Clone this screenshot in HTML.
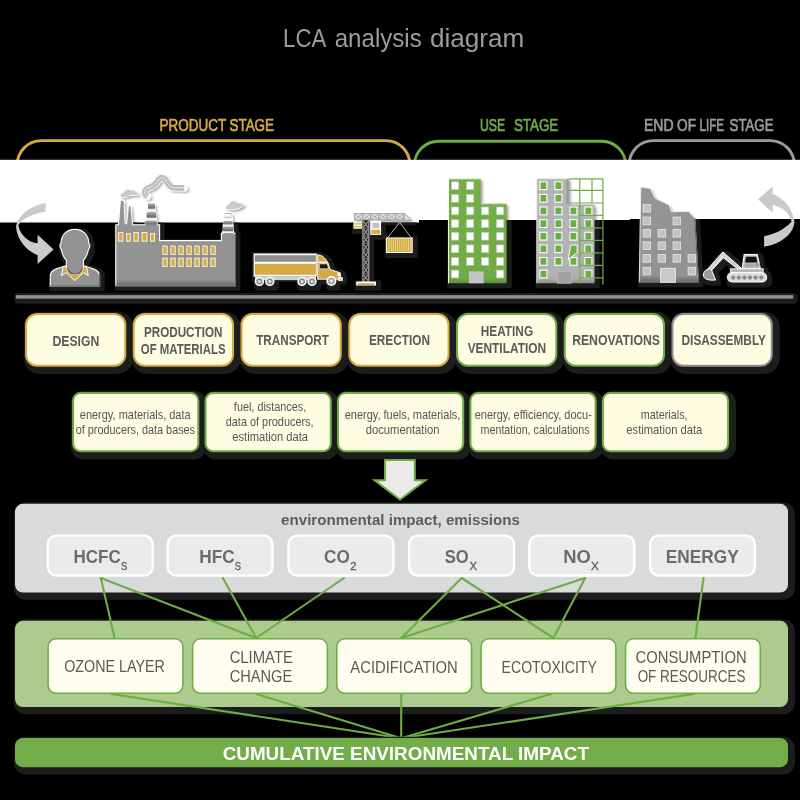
<!DOCTYPE html>
<html><head><meta charset="utf-8"><title>LCA analysis diagram</title>
<style>
html,body{margin:0;padding:0;background:#000;}
body{width:800px;height:800px;overflow:hidden;font-family:"Liberation Sans",sans-serif;}
svg{display:block;will-change:transform;}
svg text{font-family:"Liberation Sans",sans-serif;}
</style></head><body>
<svg width="800" height="800" viewBox="0 0 800 800">
<defs>
<filter id="sh" x="-10%" y="-20%" width="125%" height="150%">
  <feGaussianBlur in="SourceAlpha" stdDeviation="0.9"/>
  <feOffset dx="3.6" dy="5.2" result="o"/>
  <feFlood flood-color="#1d1c1d"/>
  <feComposite in2="o" operator="in" result="s"/>
  <feMerge><feMergeNode in="s"/><feMergeNode in="SourceGraphic"/></feMerge>
</filter>
<linearGradient id="ground" x1="0" y1="0" x2="0" y2="1">
  <stop offset="0" stop-color="#77787a"/><stop offset="0.5" stop-color="#9a9b9d"/><stop offset="1" stop-color="#77787a"/>
</linearGradient>
</defs>
<rect x="0" y="0" width="800" height="800" fill="#000"/>

<text transform="translate(304.70,46.50) scale(0.8883,1)" text-anchor="middle" font-size="25" fill="#9c9c9c" >LCA</text>
<text transform="translate(378.20,46.50) scale(0.9633,1)" text-anchor="middle" font-size="25" fill="#9c9c9c" >analysis</text>
<text transform="translate(477.10,46.50) scale(1.0452,1)" text-anchor="middle" font-size="25" fill="#9c9c9c" >diagram</text>
<text transform="translate(192.85,130.60) scale(0.7753,1)" text-anchor="middle" font-size="17.4" fill="#d6aa43" stroke="#d6aa43" stroke-width="0.7">PRODUCT</text>
<text transform="translate(251.75,130.60) scale(0.7714,1)" text-anchor="middle" font-size="17.4" fill="#d6aa43" stroke="#d6aa43" stroke-width="0.7">STAGE</text>
<text transform="translate(492.50,130.60) scale(0.7043,1)" text-anchor="middle" font-size="17.4" fill="#6dad46" stroke="#6dad46" stroke-width="0.7">USE</text>
<text transform="translate(536.05,130.60) scale(0.7679,1)" text-anchor="middle" font-size="17.4" fill="#6dad46" stroke="#6dad46" stroke-width="0.7">STAGE</text>
<text transform="translate(658.70,130.60) scale(0.8057,1)" text-anchor="middle" font-size="17.4" fill="#9b9b9b" stroke="#9b9b9b" stroke-width="0.7">END</text>
<text transform="translate(686.60,130.60) scale(0.7863,1)" text-anchor="middle" font-size="17.4" fill="#9b9b9b" stroke="#9b9b9b" stroke-width="0.7">OF</text>
<text transform="translate(711.85,130.60) scale(0.6668,1)" text-anchor="middle" font-size="17.4" fill="#9b9b9b" stroke="#9b9b9b" stroke-width="0.7">LIFE</text>
<text transform="translate(751.55,130.60) scale(0.7610,1)" text-anchor="middle" font-size="17.4" fill="#9b9b9b" stroke="#9b9b9b" stroke-width="0.7">STAGE</text>
<path d="M17.3,175 V164.6 A24,24 0 0 1 41.3,140.6 H385.9 A24,24 0 0 1 409.9,164.6 V175" fill="none" stroke="#d6aa43" stroke-width="2.9"/>
<path d="M414.4,175 V165.2 A24,24 0 0 1 438.4,141.2 H601.7 A24,24 0 0 1 625.7,165.2 V175" fill="none" stroke="#6dad46" stroke-width="2.9"/>
<path d="M629.2,175 V164.6 A24,24 0 0 1 653.2,140.6 H770.3 A24,24 0 0 1 794.3,164.6 V175" fill="none" stroke="#9b9b9b" stroke-width="2.9"/>
<rect x="0" y="159.8" width="419" height="62.7" fill="#fff"/>
<rect x="419" y="159.8" width="211" height="60.2" fill="#fff"/>
<rect x="630" y="159.8" width="170" height="59.2" fill="#fff"/>
<defs>
<filter id="ish" filterUnits="userSpaceOnUse" x="0" y="150" width="800" height="160">
  <feMorphology in="SourceAlpha" operator="dilate" radius="3.4"/>
  <feGaussianBlur stdDeviation="0.5"/>
  <feOffset dx="1.7" dy="2.1" result="o"/>
  <feFlood flood-color="#1e1d1e"/>
  <feComposite in2="o" operator="in"/>
</filter>
<filter id="ishw" filterUnits="userSpaceOnUse" x="0" y="150" width="800" height="160">
  <feGaussianBlur in="SourceAlpha" stdDeviation="1.2"/>
  <feOffset dx="2.2" dy="2.4" result="o"/>
  <feFlood flood-color="#000" flood-opacity="0.33"/>
  <feComposite in2="o" operator="in"/>
</filter>
<clipPath id="cband"><rect x="0" y="159.8" width="419" height="62.7"/><rect x="419" y="159.8" width="211" height="60.2"/><rect x="630" y="159.8" width="170" height="59.2"/></clipPath>
<clipPath id="cblack"><rect x="0" y="222.5" width="419" height="80"/><rect x="419" y="220" width="211" height="80"/><rect x="630" y="219" width="170" height="80"/></clipPath>
<linearGradient id="bodyg" x1="0" y1="0" x2="0" y2="1">
  <stop offset="0" stop-color="#959595"/><stop offset="0.93" stop-color="#929292"/><stop offset="1" stop-color="#666"/>
</linearGradient>
<linearGradient id="segg" x1="0" y1="0" x2="0" y2="1">
  <stop offset="0" stop-color="#a6a6a6"/><stop offset="1" stop-color="#666"/>
</linearGradient>
<linearGradient id="greeng" x1="0" y1="0" x2="0" y2="1">
  <stop offset="0" stop-color="#73ae4a"/><stop offset="0.95" stop-color="#70ab47"/><stop offset="1" stop-color="#5a8f38"/>
</linearGradient>
<linearGradient id="lgrayg" x1="0" y1="0" x2="0" y2="1">
  <stop offset="0" stop-color="#b4b4b4"/><stop offset="0.95" stop-color="#b1b1b1"/><stop offset="1" stop-color="#8f8f8f"/>
</linearGradient>
</defs>
<g clip-path="url(#cblack)"><g filter="url(#ish)"><g id="sil"><path d="M74.9,229.4 C83.5,229.4 88.6,235.5 88.9,243.6 C90.2,243.8 90.2,247.5 88.4,249.6 C87.6,254.5 85.4,258.2 83.4,260.4 L83.4,266.5 C83.4,271.5 79.5,274.4 74.9,274.4 C70.3,274.4 66.4,271.5 66.4,266.5 L66.4,260.4 C64.4,258.2 62.2,254.5 61.4,249.6 C59.6,247.5 59.6,243.8 60.9,243.6 C61.2,235.5 66.3,229.4 74.9,229.4 Z"/><path d="M50.3,286.2 L50.3,276 C50.3,271 55,268.6 66.4,265.7 L83.4,265.7 C94.8,268.6 99.6,271 99.6,276 L99.6,286.2 Z"/><path d="M115.8,285.8 L115.8,224.8 L118.4,224.8 L120.4,200.2 L124,200.2 L125.2,223.6 L126.6,223.6 L128.4,205.6 L131,205.6 L132.6,224.8 L145.2,224.8 L145.2,221 L146.6,221 L146.6,212.6 L148,212.6 L148,203.6 L155,203.6 L155,212.6 L156.2,212.6 L156.2,221 L157.2,221 L157.2,224.8 L159.6,224.8 L159.6,240.6 L221.4,240.6 L221.4,233.2 L223.2,233.2 L224.6,212.4 L232,212.4 L233.6,233.2 L235.4,233.2 L235.4,285.8 Z"/><path d="M120.4,197.2 C119.6,194.5 121.5,192.6 123.6,192.4 C124.6,189.6 128.6,188 131,190.2 C133.5,189.4 136,190.6 136.4,192 L138.4,192 L138.4,195.2 L130,195.6 C128,197.6 123,198 120.4,197.2 Z"/><path d="M225.6,209 C224.8,206.6 226.4,204.6 229,204.4 C229.6,201.2 233.6,199.6 236.2,201.6 C238.6,203.2 241.6,203.4 244.2,204 C243.4,206.6 240,209 236,209.4 C232,210 228,209.8 225.6,209 Z"/><path d="M147.5,196.4 C143.4,194 144,189.4 149,187.8 C154,186.2 155.6,184.4 157.6,181 C159.6,177.4 163.2,176.6 165.6,180 C167.6,183 169,186.8 173,187.6 L184.2,188" fill="none" stroke="#000" stroke-width="6" stroke-linecap="round" stroke-linejoin="round"/><rect x="253" y="252.9" width="64.2" height="24.2"/><path d="M317,254.2 C322,254.4 325.6,257.6 327.8,262 L330.4,269.4 L340.6,272.4 L342,279.4 L317,279.4 Z"/><circle cx="259.4" cy="281.4" r="4.4"/><circle cx="269.8" cy="281.4" r="4.4"/><circle cx="302" cy="281.4" r="4.4"/><circle cx="312" cy="281.4" r="4.4"/><circle cx="331.4" cy="281.4" r="4.4"/><rect x="354" y="213.1" width="50" height="7.2"/><path d="M404,213.1 L411.6,220.3 L404,220.3 Z"/><rect x="362.4" y="220" width="6.9" height="61.6"/><rect x="353.4" y="221.8" width="8.6" height="7"/><rect x="370.2" y="220.6" width="10.9" height="14.3"/><rect x="386" y="237.6" width="26.6" height="15.3"/><rect x="356.2" y="281.5" width="19.8" height="4"/><path d="M448.3,283.3 L448.3,178.6 L480.8,178.6 L480.8,203.6 L506.6,203.6 L506.6,283.3 Z"/><path d="M536.7,283.3 L536.7,178.6 L568.8,178.6 L568.8,204.4 L594.5,204.4 L594.5,283.3 Z"/><path d="M639.3,282.3 L640.8,187 L650.4,188.5 L655,198.2 L669.2,205 L671.4,211.8 L688.8,211.5 L694.8,218.5 L698.5,282.3 Z"/><rect x="727.2" y="272.4" width="39.8" height="10" rx="4.6"/><rect x="730.4" y="268.6" width="33" height="4"/><path d="M742,268.8 L744,254.3 L757.4,254.3 L760.6,268.8 Z"/><path d="M742,268 L722.8,251.6 L706.6,270 L710,272 L723.4,257.6 L738,268.8 Z"/><path d="M703,275 C703,270.6 706.5,268.4 711.4,268.6 L716,280.4 C709,281 703,279.6 703,275 Z"/></g></g></g>
<g clip-path="url(#cband)"><g filter="url(#ishw)"><use href="#sil"/></g></g>
<path d="M764.1,236.2 C772,235 784,230.5 791.6,221.6 L791.2,220.3 C789.5,214 783,207 772.7,205.1 L772.7,212.8 L758,199.2 L772.7,186.4 L772.7,194.1 C783,198 792,207 794.4,221.2 C794.6,232 783,243.5 764.1,246.7 Z" fill="#c9cacb"/><path d="M45.6,203 C33,205.5 19,213 16.1,226 C16.2,238 26,251 37.6,255 L37.6,263.9 L53.6,249.4 L37.6,234.8 L37.6,243.3 C29,242.5 20.5,235 18.6,226.4 L18.4,225 C22,218.5 33,213.5 45.6,211.7 Z" fill="#c9cacb"/>
<path d="M50.3,286.2 L50.3,276 C50.3,271 55,268.6 66.4,265.7 L83.4,265.7 C94.8,268.6 99.6,271 99.6,276 L99.6,286.2 Z" fill="url(#bodyg)" stroke="#fff" stroke-width="1.1"/>
<path d="M99.6,274 L99.6,286.2 L50.3,286.2" fill="none" stroke="#5e5e5e" stroke-width="1.2"/>
<path d="M63.3,266.2 L61.3,275.8 L66,272.6 L74.8,280.6 L83.6,272.6 L88.3,275.8 L86.4,266.2 L74.8,268 Z" fill="#d6aa43" stroke="#fff" stroke-width="1"/>
<path d="M74.9,229.4 C83.5,229.4 88.6,235.5 88.9,243.6 C90.2,243.8 90.2,247.5 88.4,249.6 C87.6,254.5 85.4,258.2 83.4,260.4 L83.4,266.5 C83.4,271.5 79.5,274.4 74.9,274.4 C70.3,274.4 66.4,271.5 66.4,266.5 L66.4,260.4 C64.4,258.2 62.2,254.5 61.4,249.6 C59.6,247.5 59.6,243.8 60.9,243.6 C61.2,235.5 66.3,229.4 74.9,229.4 Z" fill="#939393" stroke="#fff" stroke-width="1.1"/>
<path d="M66.9,262 L82.9,262 L82.9,266.5 C82.9,271 79.3,273.9 74.9,273.9 C70.5,273.9 66.9,271 66.9,266.5 Z" fill="#939393"/>
<path d="M67.5,268.5 C68.5,272.2 71.5,274 74.9,274 C78.3,274 81.3,272.2 82.3,268.5" fill="none" stroke="#555" stroke-width="1.2"/>
<path d="M115.8,285.8 L115.8,224.8 L118.4,224.8 L120.4,200.2 L124,200.2 L125.2,223.6 L126.6,223.6 L128.4,205.6 L131,205.6 L132.6,224.8 L145.2,224.8 L145.2,221 L146.6,221 L146.6,212.6 L148,212.6 L148,203.6 L155,203.6 L155,212.6 L156.2,212.6 L156.2,221 L157.2,221 L157.2,224.8 L159.6,224.8 L159.6,240.6 L221.4,240.6 L221.4,233.2 L223.2,233.2 L224.6,212.4 L232,212.4 L233.6,233.2 L235.4,233.2 L235.4,285.8 Z" fill="url(#bodyg)" stroke="#fff" stroke-width="1.1" stroke-linejoin="round"/>
<path d="M235.4,233.4 L235.4,285.8 L115.8,285.8" fill="none" stroke="#5e5e5e" stroke-width="1.3"/>
<rect x="147.4" y="208.6" width="8.2" height="3.6" fill="#f4f4f4"/>
<rect x="146.0" y="217.6" width="10.8" height="3.2" fill="#f4f4f4"/>
<rect x="148" y="203.6" width="7" height="5" fill="url(#segg)"/><rect x="146.6" y="212.4" width="9.6" height="5.2" fill="url(#segg)"/><rect x="145.2" y="220.9" width="12" height="3.6" fill="url(#segg)"/>
<path d="M224.8,212.4 L231.2,212.4 L232.4,221.2 L223.6,221.2 Z" fill="#fafafa"/>
<rect x="225.2" y="213" width="5.6" height="0.9" fill="#a8a8a8"/><rect x="224.9" y="216.8" width="6.2" height="0.9" fill="#a8a8a8"/>
<rect x="223.4" y="221.2" width="9.2" height="3.3" fill="url(#segg)"/>
<rect x="222.6" y="224.5" width="10.6" height="2.3" fill="#f6f6f6"/>
<rect x="222.3" y="226.8" width="11.1" height="4.5" fill="url(#segg)"/>
<rect x="221.8" y="231.3" width="12.4" height="1.8" fill="#f6f6f6"/>
<rect x="118.6" y="232.6" width="4.3" height="8.6" fill="#d6aa43" stroke="#fbf3d6" stroke-width="1"/>
<rect x="126.6" y="233.6" width="3.8" height="7.6" fill="#d6aa43" stroke="#fbf3d6" stroke-width="1"/>
<rect x="133.9" y="232.6" width="4.4" height="8.6" fill="#d6aa43" stroke="#fbf3d6" stroke-width="1"/>
<rect x="142.1" y="232.6" width="4.9" height="8.6" fill="#d6aa43" stroke="#fbf3d6" stroke-width="1"/>
<rect x="150.5" y="233.6" width="4.0" height="7.6" fill="#d6aa43" stroke="#fbf3d6" stroke-width="1"/>
<rect x="162.9" y="246" width="4.3" height="8.3" fill="#d6aa43" stroke="#fbf3d6" stroke-width="1"/>
<rect x="170.9" y="246" width="4.3" height="8.3" fill="#d6aa43" stroke="#fbf3d6" stroke-width="1"/>
<rect x="178.9" y="246" width="4.3" height="8.3" fill="#d6aa43" stroke="#fbf3d6" stroke-width="1"/>
<rect x="186.9" y="246" width="4.3" height="8.3" fill="#d6aa43" stroke="#fbf3d6" stroke-width="1"/>
<rect x="194.9" y="246" width="4.3" height="8.3" fill="#d6aa43" stroke="#fbf3d6" stroke-width="1"/>
<rect x="202.9" y="246" width="4.3" height="8.3" fill="#d6aa43" stroke="#fbf3d6" stroke-width="1"/>
<rect x="210.9" y="246" width="4.3" height="8.3" fill="#d6aa43" stroke="#fbf3d6" stroke-width="1"/>
<rect x="162.9" y="258.2" width="4.3" height="8.2" fill="#d6aa43" stroke="#fbf3d6" stroke-width="1"/>
<rect x="170.9" y="258.2" width="4.3" height="8.2" fill="#d6aa43" stroke="#fbf3d6" stroke-width="1"/>
<rect x="178.9" y="258.2" width="4.3" height="8.2" fill="#d6aa43" stroke="#fbf3d6" stroke-width="1"/>
<rect x="186.9" y="258.2" width="4.3" height="8.2" fill="#d6aa43" stroke="#fbf3d6" stroke-width="1"/>
<rect x="194.9" y="258.2" width="4.3" height="8.2" fill="#d6aa43" stroke="#fbf3d6" stroke-width="1"/>
<rect x="202.9" y="258.2" width="4.3" height="8.2" fill="#d6aa43" stroke="#fbf3d6" stroke-width="1"/>
<rect x="210.9" y="258.2" width="4.3" height="8.2" fill="#d6aa43" stroke="#fbf3d6" stroke-width="1"/>
<path d="M120.4,197.2 C119.6,194.5 121.5,192.6 123.6,192.4 C124.6,189.6 128.6,188 131,190.2 C133.5,189.4 136,190.6 136.4,192 L138.4,192 L138.4,195.2 L130,195.6 C128,197.6 123,198 120.4,197.2 Z" fill="#cacaca" stroke="#fafafa" stroke-width="1"/>
<path d="M225.6,209 C224.8,206.6 226.4,204.6 229,204.4 C229.6,201.2 233.6,199.6 236.2,201.6 C238.6,203.2 241.6,203.4 244.2,204 C243.4,206.6 240,209 236,209.4 C232,210 228,209.8 225.6,209 Z" fill="#cacaca" stroke="#fafafa" stroke-width="1"/>
<path d="M147.5,196.4 C143.4,194 144,189.4 149,187.8 C154,186.2 155.6,184.4 157.6,181 C159.6,177.4 163.2,176.6 165.6,180 C167.6,183 169,186.8 173,187.6 L184.2,188" fill="none" stroke="#fbfbfb" stroke-width="7.6" stroke-linecap="round" stroke-linejoin="round"/>
<path d="M147.5,196.4 C143.4,194 144,189.4 149,187.8 C154,186.2 155.6,184.4 157.6,181 C159.6,177.4 163.2,176.6 165.6,180 C167.6,183 169,186.8 173,187.6 L184.2,188" fill="none" stroke="#bdbdbd" stroke-width="5.8" stroke-linecap="butt" stroke-linejoin="round"/>
<path d="M147.5,196.4 C143.4,194 144,189.4 149,187.8 C154,186.2 155.6,184.4 157.6,181 C159.6,177.4 163.2,176.6 165.6,180 C167.6,183 169,186.8 173,187.6 L184.2,188" fill="none" stroke="#f2f2f2" stroke-width="0.9" stroke-linecap="butt" stroke-linejoin="round"/>
<rect x="253.6" y="253.5" width="63.2" height="23.2" fill="#fff"/>
<rect x="254.8" y="255.2" width="61" height="6.6" fill="#8d8d8d"/>
<rect x="254.8" y="263.8" width="61" height="11" fill="#d6aa43"/>
<rect x="255" y="276.7" width="61" height="3.4" fill="#cfcfcf"/>
<path d="M317.6,254.8 C322,255 325.2,257.8 327.4,262 L317.6,262 Z" fill="#d6aa43" stroke="#fff" stroke-width="0.9"/>
<path d="M317.6,262.6 L328,262.6 L330.2,269.6 L339.8,272.6 L341,279.2 L317.6,279.2 Z" fill="#d6aa43" stroke="#fff" stroke-width="0.9" stroke-linejoin="round"/>
<path d="M319.4,263.9 L327.2,263.9 L328.6,268.8 L319.4,268.8 Z" fill="#1a1a1a" stroke="#fff" stroke-width="0.6"/>
<rect x="337.6" y="272.6" width="3" height="3.4" fill="#fff"/><rect x="338.6" y="277.6" width="4" height="3.2" fill="#ddd" stroke="#fff" stroke-width="0.6"/>
<circle cx="259.4" cy="281.4" r="3.9" fill="#8a8a8a" stroke="#fff" stroke-width="1.6"/><circle cx="259.4" cy="281.4" r="1.6" fill="#d8d8d8"/>
<circle cx="269.8" cy="281.4" r="3.9" fill="#8a8a8a" stroke="#fff" stroke-width="1.6"/><circle cx="269.8" cy="281.4" r="1.6" fill="#d8d8d8"/>
<circle cx="302" cy="281.4" r="3.9" fill="#8a8a8a" stroke="#fff" stroke-width="1.6"/><circle cx="302" cy="281.4" r="1.6" fill="#d8d8d8"/>
<circle cx="312" cy="281.4" r="3.9" fill="#8a8a8a" stroke="#fff" stroke-width="1.6"/><circle cx="312" cy="281.4" r="1.6" fill="#d8d8d8"/>
<circle cx="331.4" cy="281" r="4.2" fill="#9a9a9a" stroke="#fff" stroke-width="1.7"/><circle cx="331.4" cy="281" r="1.7" fill="#e8e8e8"/>
<rect x="354" y="213.2" width="50" height="7" fill="#dcdcdc"/>
<path d="M404,213.2 L411.4,220.2 L404,220.2 Z" fill="#dedede" stroke="#a4a4a4" stroke-width="0.9"/>
<rect x="354.40" y="213.6" width="7.9" height="6.2" fill="#dedede" stroke="#a2a2a2" stroke-width="0.9"/><path d="M354.40,213.6 l7.9,6.2 M354.40,219.8 l7.9,-6.2" stroke="#a8a8a8" stroke-width="0.9"/>
<rect x="362.67" y="213.6" width="7.9" height="6.2" fill="#dedede" stroke="#a2a2a2" stroke-width="0.9"/><path d="M362.67,213.6 l7.9,6.2 M362.67,219.8 l7.9,-6.2" stroke="#a8a8a8" stroke-width="0.9"/>
<rect x="370.94" y="213.6" width="7.9" height="6.2" fill="#dedede" stroke="#a2a2a2" stroke-width="0.9"/><path d="M370.94,213.6 l7.9,6.2 M370.94,219.8 l7.9,-6.2" stroke="#a8a8a8" stroke-width="0.9"/>
<rect x="379.21" y="213.6" width="7.9" height="6.2" fill="#dedede" stroke="#a2a2a2" stroke-width="0.9"/><path d="M379.21,213.6 l7.9,6.2 M379.21,219.8 l7.9,-6.2" stroke="#a8a8a8" stroke-width="0.9"/>
<rect x="387.48" y="213.6" width="7.9" height="6.2" fill="#dedede" stroke="#a2a2a2" stroke-width="0.9"/><path d="M387.48,213.6 l7.9,6.2 M387.48,219.8 l7.9,-6.2" stroke="#a8a8a8" stroke-width="0.9"/>
<rect x="395.75" y="213.6" width="7.9" height="6.2" fill="#dedede" stroke="#a2a2a2" stroke-width="0.9"/><path d="M395.75,213.6 l7.9,6.2 M395.75,219.8 l7.9,-6.2" stroke="#a8a8a8" stroke-width="0.9"/>
<rect x="362.4" y="220.3" width="6.9" height="61.3" fill="#1c1c1c"/>
<rect x="362.3" y="220.3" width="1.3" height="61.3" fill="#9c9c9c"/><rect x="368.1" y="220.3" width="1.3" height="61.3" fill="#9c9c9c"/>
<path d="M363.4,221.2 l4.9,6.4 M363.4,227.6 l4.9,-6.4" stroke="#9a9a9a" stroke-width="1.1"/><path d="M362.6,228.2 h6.6" stroke="#8a8a8a" stroke-width="0.9"/>
<path d="M363.4,228.8 l4.9,6.4 M363.4,235.2 l4.9,-6.4" stroke="#9a9a9a" stroke-width="1.1"/><path d="M362.6,235.8 h6.6" stroke="#8a8a8a" stroke-width="0.9"/>
<path d="M363.4,236.4 l4.9,6.4 M363.4,242.8 l4.9,-6.4" stroke="#9a9a9a" stroke-width="1.1"/><path d="M362.6,243.4 h6.6" stroke="#8a8a8a" stroke-width="0.9"/>
<path d="M363.4,244.0 l4.9,6.4 M363.4,250.4 l4.9,-6.4" stroke="#9a9a9a" stroke-width="1.1"/><path d="M362.6,251.0 h6.6" stroke="#8a8a8a" stroke-width="0.9"/>
<path d="M363.4,251.6 l4.9,6.4 M363.4,258.0 l4.9,-6.4" stroke="#9a9a9a" stroke-width="1.1"/><path d="M362.6,258.6 h6.6" stroke="#8a8a8a" stroke-width="0.9"/>
<path d="M363.4,259.2 l4.9,6.4 M363.4,265.6 l4.9,-6.4" stroke="#9a9a9a" stroke-width="1.1"/><path d="M362.6,266.2 h6.6" stroke="#8a8a8a" stroke-width="0.9"/>
<path d="M363.4,266.8 l4.9,6.4 M363.4,273.2 l4.9,-6.4" stroke="#9a9a9a" stroke-width="1.1"/><path d="M362.6,273.8 h6.6" stroke="#8a8a8a" stroke-width="0.9"/>
<path d="M363.4,274.4 l4.9,6.4 M363.4,280.8 l4.9,-6.4" stroke="#9a9a9a" stroke-width="1.1"/><path d="M362.6,281.4 h6.6" stroke="#8a8a8a" stroke-width="0.9"/>
<rect x="353.4" y="221.8" width="8.6" height="7" fill="#f5f0dc"/>
<rect x="353.4" y="223.2" width="8.6" height="1.3" fill="#d6aa43" opacity="0.8"/><rect x="353.4" y="226.0" width="8.6" height="1.3" fill="#d6aa43" opacity="0.8"/>
<rect x="370.2" y="220.6" width="10.9" height="14.3" fill="#fff"/>
<rect x="372.2" y="222.8" width="7" height="5.6" fill="#c2c3c4"/>
<rect x="371.4" y="229.8" width="8.6" height="4" fill="#d6aa43"/>
<rect x="397" y="221" width="5.4" height="1.4" fill="#d6aa43"/>
<path d="M399.7,222.4 L387.4,238 M399.7,222.4 L411.4,238" stroke="#bdbdbd" stroke-width="0.9" fill="none"/>
<rect x="386.4" y="238" width="25.8" height="14.5" fill="#d6aa43" stroke="#fff" stroke-width="1"/>
<rect x="388.60" y="239.2" width="0.8" height="12.2" fill="#f1dfa6" opacity="0.85"/>
<rect x="390.75" y="239.2" width="0.8" height="12.2" fill="#f1dfa6" opacity="0.85"/>
<rect x="392.90" y="239.2" width="0.8" height="12.2" fill="#f1dfa6" opacity="0.85"/>
<rect x="395.05" y="239.2" width="0.8" height="12.2" fill="#f1dfa6" opacity="0.85"/>
<rect x="397.20" y="239.2" width="0.8" height="12.2" fill="#f1dfa6" opacity="0.85"/>
<rect x="399.35" y="239.2" width="0.8" height="12.2" fill="#f1dfa6" opacity="0.85"/>
<rect x="401.50" y="239.2" width="0.8" height="12.2" fill="#f1dfa6" opacity="0.85"/>
<rect x="403.65" y="239.2" width="0.8" height="12.2" fill="#f1dfa6" opacity="0.85"/>
<rect x="405.80" y="239.2" width="0.8" height="12.2" fill="#f1dfa6" opacity="0.85"/>
<rect x="407.95" y="239.2" width="0.8" height="12.2" fill="#f1dfa6" opacity="0.85"/>
<rect x="410.10" y="239.2" width="0.8" height="12.2" fill="#f1dfa6" opacity="0.85"/>
<rect x="356.2" y="281.5" width="19.8" height="4" fill="#fff"/><rect x="358" y="283.2" width="16" height="1.8" fill="#d6aa43"/>
<path d="M448.3,283.3 L448.3,178.6 L480.8,178.6 L480.8,203.6 L506.6,203.6 L506.6,283.3 Z" fill="url(#greeng)"/><path d="M448.5,283.3 L448.5,178.8 L480.8,178.8" fill="none" stroke="#fff" stroke-width="0.9"/><path d="M480.8,203.9 L506.4,203.9" stroke="#e8f2e0" stroke-width="0.7"/>
<rect x="451.4" y="181.8" width="7.4" height="7.8" fill="#fff" stroke="#b9c7ae" stroke-width="0.7"/>
<rect x="466.4" y="181.8" width="7.4" height="7.8" fill="#fff" stroke="#b9c7ae" stroke-width="0.7"/>
<rect x="451.4" y="194.4" width="7.4" height="7.8" fill="#fff" stroke="#b9c7ae" stroke-width="0.7"/>
<rect x="466.4" y="194.4" width="7.4" height="7.8" fill="#fff" stroke="#b9c7ae" stroke-width="0.7"/>
<rect x="451.4" y="207.0" width="7.4" height="7.8" fill="#fff" stroke="#b9c7ae" stroke-width="0.7"/>
<rect x="466.4" y="207.0" width="7.4" height="7.8" fill="#fff" stroke="#b9c7ae" stroke-width="0.7"/>
<rect x="481.4" y="207.0" width="7.4" height="7.8" fill="#fff" stroke="#b9c7ae" stroke-width="0.7"/>
<rect x="496.4" y="207.0" width="7.4" height="7.8" fill="#fff" stroke="#b9c7ae" stroke-width="0.7"/>
<rect x="451.4" y="219.7" width="7.4" height="7.8" fill="#fff" stroke="#b9c7ae" stroke-width="0.7"/>
<rect x="466.4" y="219.7" width="7.4" height="7.8" fill="#fff" stroke="#b9c7ae" stroke-width="0.7"/>
<rect x="481.4" y="219.7" width="7.4" height="7.8" fill="#fff" stroke="#b9c7ae" stroke-width="0.7"/>
<rect x="496.4" y="219.7" width="7.4" height="7.8" fill="#fff" stroke="#b9c7ae" stroke-width="0.7"/>
<rect x="451.4" y="232.3" width="7.4" height="7.8" fill="#fff" stroke="#b9c7ae" stroke-width="0.7"/>
<rect x="466.4" y="232.3" width="7.4" height="7.8" fill="#fff" stroke="#b9c7ae" stroke-width="0.7"/>
<rect x="481.4" y="232.3" width="7.4" height="7.8" fill="#fff" stroke="#b9c7ae" stroke-width="0.7"/>
<rect x="496.4" y="232.3" width="7.4" height="7.8" fill="#fff" stroke="#b9c7ae" stroke-width="0.7"/>
<rect x="451.4" y="244.9" width="7.4" height="7.8" fill="#fff" stroke="#b9c7ae" stroke-width="0.7"/>
<rect x="466.4" y="244.9" width="7.4" height="7.8" fill="#fff" stroke="#b9c7ae" stroke-width="0.7"/>
<rect x="481.4" y="244.9" width="7.4" height="7.8" fill="#fff" stroke="#b9c7ae" stroke-width="0.7"/>
<rect x="496.4" y="244.9" width="7.4" height="7.8" fill="#fff" stroke="#b9c7ae" stroke-width="0.7"/>
<rect x="451.4" y="257.5" width="7.4" height="7.8" fill="#fff" stroke="#b9c7ae" stroke-width="0.7"/>
<rect x="466.4" y="257.5" width="7.4" height="7.8" fill="#fff" stroke="#b9c7ae" stroke-width="0.7"/>
<rect x="481.4" y="257.5" width="7.4" height="7.8" fill="#fff" stroke="#b9c7ae" stroke-width="0.7"/>
<rect x="496.4" y="257.5" width="7.4" height="7.8" fill="#fff" stroke="#b9c7ae" stroke-width="0.7"/>
<rect x="451.4" y="270.1" width="7.4" height="7.8" fill="#fff" stroke="#b9c7ae" stroke-width="0.7"/>
<rect x="496.4" y="270.1" width="7.4" height="7.8" fill="#fff" stroke="#b9c7ae" stroke-width="0.7"/>
<rect x="468.8" y="271.4" width="14.8" height="11.9" fill="#c3c4c5"/>
<path d="M536.7,283.3 L536.7,178.6 L568.8,178.6 L568.8,204.4 L594.5,204.4 L594.5,283.3 Z" fill="url(#lgrayg)"/><path d="M536.9,283.3 L536.9,178.8 L568.8,178.8" fill="none" stroke="#eee" stroke-width="0.9"/>
<rect x="566.4" y="179" width="2.4" height="25" fill="#9a9a9a"/>
<rect x="539.9" y="181.8" width="7.0" height="7.8" fill="#6dad46" stroke="#fff" stroke-width="1.1"/>
<rect x="554.9" y="181.8" width="7.0" height="7.8" fill="#6dad46" stroke="#fff" stroke-width="1.1"/>
<rect x="539.9" y="194.4" width="7.0" height="7.8" fill="#6dad46" stroke="#fff" stroke-width="1.1"/>
<rect x="554.9" y="194.4" width="7.0" height="7.8" fill="#6dad46" stroke="#fff" stroke-width="1.1"/>
<rect x="539.9" y="207.0" width="7.0" height="7.8" fill="#6dad46" stroke="#fff" stroke-width="1.1"/>
<rect x="554.9" y="207.0" width="7.0" height="7.8" fill="#6dad46" stroke="#fff" stroke-width="1.1"/>
<rect x="569.9" y="207.0" width="7.0" height="7.8" fill="#6dad46" stroke="#fff" stroke-width="1.1"/>
<rect x="584.9" y="207.0" width="7.0" height="7.8" fill="#6dad46" stroke="#fff" stroke-width="1.1"/>
<rect x="539.9" y="219.7" width="7.0" height="7.8" fill="#6dad46" stroke="#fff" stroke-width="1.1"/>
<rect x="554.9" y="219.7" width="7.0" height="7.8" fill="#6dad46" stroke="#fff" stroke-width="1.1"/>
<rect x="569.9" y="219.7" width="7.0" height="7.8" fill="#6dad46" stroke="#fff" stroke-width="1.1"/>
<rect x="584.9" y="219.7" width="7.0" height="7.8" fill="#6dad46" stroke="#fff" stroke-width="1.1"/>
<rect x="539.9" y="232.3" width="7.0" height="7.8" fill="#6dad46" stroke="#fff" stroke-width="1.1"/>
<rect x="554.9" y="232.3" width="7.0" height="7.8" fill="#6dad46" stroke="#fff" stroke-width="1.1"/>
<rect x="569.9" y="232.3" width="7.0" height="7.8" fill="#6dad46" stroke="#fff" stroke-width="1.1"/>
<rect x="584.9" y="232.3" width="7.0" height="7.8" fill="#6dad46" stroke="#fff" stroke-width="1.1"/>
<rect x="539.9" y="244.9" width="7.0" height="7.8" fill="#6dad46" stroke="#fff" stroke-width="1.1"/>
<rect x="554.9" y="244.9" width="7.0" height="7.8" fill="#6dad46" stroke="#fff" stroke-width="1.1"/>
<rect x="584.9" y="244.9" width="7.0" height="7.8" fill="#6dad46" stroke="#fff" stroke-width="1.1"/>
<rect x="539.9" y="257.5" width="7.0" height="7.8" fill="#6dad46" stroke="#fff" stroke-width="1.1"/>
<rect x="554.9" y="257.5" width="7.0" height="7.8" fill="#6dad46" stroke="#fff" stroke-width="1.1"/>
<rect x="569.9" y="257.5" width="7.0" height="7.8" fill="#6dad46" stroke="#fff" stroke-width="1.1"/>
<rect x="584.9" y="257.5" width="7.0" height="7.8" fill="#6dad46" stroke="#fff" stroke-width="1.1"/>
<rect x="539.9" y="270.1" width="7.0" height="7.8" fill="#6dad46" stroke="#fff" stroke-width="1.1"/>
<rect x="584.9" y="270.1" width="7.0" height="7.8" fill="#6dad46" stroke="#fff" stroke-width="1.1"/>
<path d="M570.6,245 L577.2,245 L577.2,252.6 L568.2,259.6 Z" fill="#6dad46" stroke="#fff" stroke-width="1"/>
<rect x="557.4" y="271.4" width="14" height="11.9" fill="#a2a2a2" stroke="#bcbcbc" stroke-width="0.6"/>
<path d="M569.2,178.8 H603 M569.2,190.4 H603 M569.2,203 H603 M579.8,178.8 V283.4 M592,178.8 V203 M602.9,178.8 V284.6" stroke="#6dad46" stroke-width="1.2" fill="none"/>
<path d="M579.8,215.4 H602.9" stroke="#6dad46" stroke-width="1.2" fill="none"/>
<path d="M579.8,227.9 H602.9" stroke="#6dad46" stroke-width="1.2" fill="none"/>
<path d="M579.8,240.4 H602.9" stroke="#6dad46" stroke-width="1.2" fill="none"/>
<path d="M579.8,252.9 H602.9" stroke="#6dad46" stroke-width="1.2" fill="none"/>
<path d="M579.8,265.4 H602.9" stroke="#6dad46" stroke-width="1.2" fill="none"/>
<path d="M579.8,277.9 H602.9" stroke="#6dad46" stroke-width="1.2" fill="none"/>
<path d="M639.3,282.3 L640.8,187 L650.4,188.5 L655,198.2 L669.2,205 L671.4,211.8 L688.8,211.5 L694.8,218.5 L698.5,282.3 Z" fill="url(#bodyg)" stroke="#f0f0f0" stroke-width="0.9" stroke-linejoin="round"/>
<path d="M694.8,218.5 L698.5,282.3 L639.3,282.3" fill="none" stroke="#5e5e5e" stroke-width="1.2"/>
<rect x="643.1" y="204.4" width="7.4" height="7.6" fill="#c2c2c2" stroke="#e3e3e3" stroke-width="0.9"/>
<rect x="643.1" y="217.1" width="7.4" height="7.6" fill="#c2c2c2" stroke="#e3e3e3" stroke-width="0.9"/>
<rect x="673.1" y="217.1" width="7.4" height="7.6" fill="#c2c2c2" stroke="#e3e3e3" stroke-width="0.9"/>
<rect x="643.1" y="229.5" width="7.4" height="7.6" fill="#c2c2c2" stroke="#e3e3e3" stroke-width="0.9"/>
<rect x="658.1" y="229.5" width="7.4" height="7.6" fill="#c2c2c2" stroke="#e3e3e3" stroke-width="0.9"/>
<rect x="673.1" y="229.5" width="7.4" height="7.6" fill="#c2c2c2" stroke="#e3e3e3" stroke-width="0.9"/>
<rect x="643.1" y="241.9" width="7.4" height="7.6" fill="#c2c2c2" stroke="#e3e3e3" stroke-width="0.9"/>
<rect x="658.1" y="241.9" width="7.4" height="7.6" fill="#c2c2c2" stroke="#e3e3e3" stroke-width="0.9"/>
<rect x="673.1" y="241.9" width="7.4" height="7.6" fill="#c2c2c2" stroke="#e3e3e3" stroke-width="0.9"/>
<rect x="643.1" y="254.6" width="7.4" height="7.6" fill="#c2c2c2" stroke="#e3e3e3" stroke-width="0.9"/>
<rect x="658.1" y="254.6" width="7.4" height="7.6" fill="#c2c2c2" stroke="#e3e3e3" stroke-width="0.9"/>
<rect x="673.1" y="254.6" width="7.4" height="7.6" fill="#c2c2c2" stroke="#e3e3e3" stroke-width="0.9"/>
<rect x="688.1" y="254.6" width="7.4" height="7.6" fill="#c2c2c2" stroke="#e3e3e3" stroke-width="0.9"/>
<rect x="643.1" y="267.3" width="7.4" height="7.6" fill="#c2c2c2" stroke="#e3e3e3" stroke-width="0.9"/>
<rect x="688.1" y="267.3" width="7.4" height="7.6" fill="#c2c2c2" stroke="#e3e3e3" stroke-width="0.9"/>
<rect x="660.6" y="268.3" width="14.8" height="14" fill="#c9c9c9" stroke="#e6e6e6" stroke-width="1"/>
<path d="M741.6,268.4 L722.9,252 L707,270 L710,272 L723.4,257.8 L737.6,268.8 Z" fill="#cfcfcf" stroke="#fff" stroke-width="1" stroke-linejoin="round"/>
<path d="M724,254.6 L713.4,267.6" stroke="#fff" stroke-width="0.8"/>
<path d="M703.4,275 C703.4,270.8 706.8,268.8 711.2,269 L715.6,280 C709,280.6 703.4,279.4 703.4,275 Z" fill="#9c9c9c" stroke="#fff" stroke-width="1"/>
<path d="M742.2,268.8 L744.2,254.6 L757.2,254.6 L760.4,268.8 Z" fill="#bdbdbd" stroke="#fff" stroke-width="1.1" stroke-linejoin="round"/>
<path d="M746,256.8 L756.2,256.8 L757.4,262.6 L745.2,262.6 Z" fill="#111"/>
<rect x="745" y="263.8" width="9" height="3.6" fill="#a8a8a8"/><rect x="755" y="263.4" width="4.6" height="3" fill="#9a9a9a"/>
<rect x="730.6" y="268.8" width="32.6" height="3.6" fill="#b8b8b8" stroke="#fff" stroke-width="0.8"/>
<rect x="727.6" y="272.8" width="39" height="9.2" rx="4.4" fill="#d9d9d9" stroke="#fff" stroke-width="1.1"/>
<circle cx="733.2" cy="277.6" r="2.1" fill="#8a8a8a"/>
<circle cx="738.8" cy="277.6" r="2.1" fill="#8a8a8a"/>
<circle cx="744.4" cy="277.6" r="2.1" fill="#8a8a8a"/>
<circle cx="750.0" cy="277.6" r="2.1" fill="#8a8a8a"/>
<circle cx="755.6" cy="277.6" r="2.1" fill="#8a8a8a"/>
<circle cx="761.2" cy="277.6" r="2.1" fill="#8a8a8a"/>
<rect x="14.3" y="293" width="783.4" height="10.7" rx="4" fill="#1d1c1d"/>
<rect x="15.8" y="295" width="777.5" height="3.8" rx="0.8" fill="url(#ground)"/>
<rect x="23.80" y="311.70" width="109.40" height="62.20" rx="15.8" fill="#1e1d1e"/>
<rect x="131.55" y="311.70" width="109.40" height="62.20" rx="15.8" fill="#1e1d1e"/>
<rect x="239.30" y="311.70" width="109.40" height="62.20" rx="15.8" fill="#1e1d1e"/>
<rect x="347.05" y="311.70" width="109.40" height="62.20" rx="15.8" fill="#1e1d1e"/>
<rect x="454.80" y="311.70" width="109.40" height="62.20" rx="15.8" fill="#1e1d1e"/>
<rect x="562.55" y="311.70" width="109.40" height="62.20" rx="15.8" fill="#1e1d1e"/>
<rect x="670.30" y="311.70" width="109.40" height="62.20" rx="15.8" fill="#1e1d1e"/>
<rect x="26.00" y="314" width="99.3" height="51.7" rx="11" fill="#fefce1" stroke="#d6aa43" stroke-width="2"/>
<rect x="133.75" y="314" width="99.3" height="51.7" rx="11" fill="#fefce1" stroke="#d6aa43" stroke-width="2"/>
<rect x="241.50" y="314" width="99.3" height="51.7" rx="11" fill="#fefce1" stroke="#d6aa43" stroke-width="2"/>
<rect x="349.25" y="314" width="99.3" height="51.7" rx="11" fill="#fefce1" stroke="#d6aa43" stroke-width="2"/>
<rect x="457.00" y="314" width="99.3" height="51.7" rx="11" fill="#fefce1" stroke="#6dad46" stroke-width="2"/>
<rect x="564.75" y="314" width="99.3" height="51.7" rx="11" fill="#fefce1" stroke="#6dad46" stroke-width="2"/>
<rect x="672.50" y="314" width="99.3" height="51.7" rx="11" fill="#fefce1" stroke="#8f8f8f" stroke-width="2"/>
<text transform="translate(75.85,345.80) scale(0.8614,1)" text-anchor="middle" font-size="14.2" font-weight="bold" fill="#5a5a5c" >DESIGN</text>
<text transform="translate(183.20,337.00) scale(0.8213,1)" text-anchor="middle" font-size="14.2" font-weight="bold" fill="#5a5a5c" >PRODUCTION</text>
<text transform="translate(183.20,354.40) scale(0.8062,1)" text-anchor="middle" font-size="14.2" font-weight="bold" fill="#5a5a5c" >OF MATERIALS</text>
<text transform="translate(292.55,345.30) scale(0.8228,1)" text-anchor="middle" font-size="14.2" font-weight="bold" fill="#5a5a5c" >TRANSPORT</text>
<text transform="translate(399.45,345.30) scale(0.8327,1)" text-anchor="middle" font-size="14.2" font-weight="bold" fill="#5a5a5c" >ERECTION</text>
<text transform="translate(506.95,335.70) scale(0.8322,1)" text-anchor="middle" font-size="14.2" font-weight="bold" fill="#5a5a5c" >HEATING</text>
<text transform="translate(506.85,353.10) scale(0.8386,1)" text-anchor="middle" font-size="14.2" font-weight="bold" fill="#5a5a5c" >VENTILATION</text>
<text transform="translate(616.00,345.30) scale(0.8605,1)" text-anchor="middle" font-size="14.2" font-weight="bold" fill="#5a5a5c" >RENOVATIONS</text>
<text transform="translate(723.75,344.80) scale(0.8344,1)" text-anchor="middle" font-size="14.2" font-weight="bold" fill="#5a5a5c" >DISASSEMBLY</text>
<rect x="70.90" y="390.70" width="135.30" height="68.70" rx="12.3" fill="#1e1d1e"/>
<rect x="203.35" y="390.70" width="135.30" height="68.70" rx="12.3" fill="#1e1d1e"/>
<rect x="335.80" y="390.70" width="135.30" height="68.70" rx="12.3" fill="#1e1d1e"/>
<rect x="468.25" y="390.70" width="135.30" height="68.70" rx="12.3" fill="#1e1d1e"/>
<rect x="600.70" y="390.70" width="135.30" height="68.70" rx="12.3" fill="#1e1d1e"/>
<rect x="73.10" y="393" width="125.2" height="58.2" rx="7.5" fill="#fefce1" stroke="#6dad46" stroke-width="2"/>
<rect x="205.55" y="393" width="125.2" height="58.2" rx="7.5" fill="#fefce1" stroke="#6dad46" stroke-width="2"/>
<rect x="338.00" y="393" width="125.2" height="58.2" rx="7.5" fill="#fefce1" stroke="#6dad46" stroke-width="2"/>
<rect x="470.45" y="393" width="125.2" height="58.2" rx="7.5" fill="#fefce1" stroke="#6dad46" stroke-width="2"/>
<rect x="602.90" y="393" width="125.2" height="58.2" rx="7.5" fill="#fefce1" stroke="#6dad46" stroke-width="2"/>
<text transform="translate(135.20,418.80) scale(0.8521,1)" text-anchor="middle" font-size="12.9" fill="#555557" >energy, materials, data</text>
<text transform="translate(135.40,433.80) scale(0.8409,1)" text-anchor="middle" font-size="12.9" fill="#555557" >of producers, data bases</text>
<text transform="translate(270.05,410.90) scale(0.8425,1)" text-anchor="middle" font-size="12.9" fill="#555557" >fuel, distances,</text>
<text transform="translate(269.65,426.00) scale(0.8453,1)" text-anchor="middle" font-size="12.9" fill="#555557" >data of producers,</text>
<text transform="translate(270.10,441.20) scale(0.8664,1)" text-anchor="middle" font-size="12.9" fill="#555557" >estimation data</text>
<text transform="translate(402.55,418.80) scale(0.8508,1)" text-anchor="middle" font-size="12.9" fill="#555557" >energy, fuels, materials,</text>
<text transform="translate(402.55,433.80) scale(0.8732,1)" text-anchor="middle" font-size="12.9" fill="#555557" >documentation</text>
<text transform="translate(533.25,418.80) scale(0.8520,1)" text-anchor="middle" font-size="12.9" fill="#555557" >energy, efficiency, docu-</text>
<text transform="translate(535.05,433.80) scale(0.8314,1)" text-anchor="middle" font-size="12.9" fill="#555557" >mentation, calculations</text>
<text transform="translate(664.15,418.70) scale(0.8388,1)" text-anchor="middle" font-size="12.9" fill="#555557" >materials,</text>
<text transform="translate(664.30,433.80) scale(0.8687,1)" text-anchor="middle" font-size="12.9" fill="#555557" >estimation data</text>
<path d="M385,460 H414.8 V480.3 H425.6 L400,499.6 L374.6,480.3 H385 Z" fill="#ebebeb" stroke="#6dad46" stroke-width="2" stroke-linejoin="miter"/>
<rect x="13.80" y="502.50" width="781.10" height="97.30" rx="11.8" fill="#1e1d1e"/>
<rect x="15" y="503.8" width="773" height="88.8" rx="8" fill="#d9dadb"/>
<text transform="translate(400.50,525.20) scale(1.0589,1)" text-anchor="middle" font-size="14.3" font-weight="bold" fill="#5c5c5e" >environmental impact, emissions</text>
<rect x="47.80" y="535.6" width="104.9" height="39.9" rx="8.5" fill="#ebebeb" stroke="#fff" stroke-width="2.4"/>
<rect x="167.60" y="535.6" width="104.9" height="39.9" rx="8.5" fill="#ebebeb" stroke="#fff" stroke-width="2.4"/>
<rect x="288.50" y="535.6" width="104.9" height="39.9" rx="8.5" fill="#ebebeb" stroke="#fff" stroke-width="2.4"/>
<rect x="409.10" y="535.6" width="104.9" height="39.9" rx="8.5" fill="#ebebeb" stroke="#fff" stroke-width="2.4"/>
<rect x="529.40" y="535.6" width="104.9" height="39.9" rx="8.5" fill="#ebebeb" stroke="#fff" stroke-width="2.4"/>
<rect x="650.00" y="535.6" width="104.9" height="39.9" rx="8.5" fill="#ebebeb" stroke="#fff" stroke-width="2.4"/>
<text transform="translate(97.12,563.30) scale(0.9266,1)" text-anchor="middle" font-size="18.4" font-weight="bold" fill="#6b6b6d" >HCFC</text>
<text transform="translate(124.20,569.90) scale(0.8910,1)" text-anchor="middle" font-size="10.6" fill="#626264" stroke="#626264" stroke-width="0.35">S</text>
<text transform="translate(217.00,563.30) scale(0.9362,1)" text-anchor="middle" font-size="18.4" font-weight="bold" fill="#6b6b6d" >HFC</text>
<text transform="translate(238.00,569.90) scale(0.8910,1)" text-anchor="middle" font-size="10.6" fill="#626264" stroke="#626264" stroke-width="0.35">S</text>
<text transform="translate(337.00,563.30) scale(0.9348,1)" text-anchor="middle" font-size="18.4" font-weight="bold" fill="#6b6b6d" >CO</text>
<text transform="translate(353.50,569.90) scale(1.0686,1)" text-anchor="middle" font-size="10.6" fill="#626264" stroke="#626264" stroke-width="0.35">2</text>
<text transform="translate(456.70,563.30) scale(0.9027,1)" text-anchor="middle" font-size="18.4" font-weight="bold" fill="#6b6b6d" >SO</text>
<text transform="translate(473.20,569.90) scale(1.0608,1)" text-anchor="middle" font-size="10.6" fill="#626264" stroke="#626264" stroke-width="0.35">X</text>
<text transform="translate(577.00,563.30) scale(1.0000,1)" text-anchor="middle" font-size="18.4" font-weight="bold" fill="#6b6b6d" >NO</text>
<text transform="translate(594.85,569.90) scale(1.1032,1)" text-anchor="middle" font-size="10.6" fill="#626264" stroke="#626264" stroke-width="0.35">X</text>
<text transform="translate(702.20,563.30) scale(0.9394,1)" text-anchor="middle" font-size="18.4" font-weight="bold" fill="#6b6b6d" >ENERGY</text>
<rect x="13.80" y="619.50" width="781.10" height="94.70" rx="11.8" fill="#1e1d1e"/>
<rect x="15" y="620.8" width="773" height="86.2" rx="8" fill="#adcb8d"/>
<path d="M100.8,578 L114.6,638" stroke="#6dad46" stroke-width="2.1" fill="none" stroke-linecap="round"/>
<path d="M100.8,578 L256.2,638" stroke="#6dad46" stroke-width="2.1" fill="none" stroke-linecap="round"/>
<path d="M222.9,578 L256.2,638" stroke="#6dad46" stroke-width="2.1" fill="none" stroke-linecap="round"/>
<path d="M344,578 L256.2,638" stroke="#6dad46" stroke-width="2.1" fill="none" stroke-linecap="round"/>
<path d="M461.7,578 L401.4,638" stroke="#6dad46" stroke-width="2.1" fill="none" stroke-linecap="round"/>
<path d="M461.7,578 L553.4,638" stroke="#6dad46" stroke-width="2.1" fill="none" stroke-linecap="round"/>
<path d="M585.2,578 L401.4,638" stroke="#6dad46" stroke-width="2.1" fill="none" stroke-linecap="round"/>
<path d="M585.2,578 L553.4,638" stroke="#6dad46" stroke-width="2.1" fill="none" stroke-linecap="round"/>
<path d="M703.5,578 L695.4,638" stroke="#6dad46" stroke-width="2.1" fill="none" stroke-linecap="round"/>
<path d="M111.3,694 L401.2,738.3" stroke="#6dad46" stroke-width="2.1" fill="none" stroke-linecap="round"/>
<path d="M256.2,694 L401.2,738.3" stroke="#6dad46" stroke-width="2.1" fill="none" stroke-linecap="round"/>
<path d="M401.2,694 L401.2,738.3" stroke="#6dad46" stroke-width="2.1" fill="none" stroke-linecap="round"/>
<path d="M551,694 L401.2,738.3" stroke="#6dad46" stroke-width="2.1" fill="none" stroke-linecap="round"/>
<path d="M693.5,694 L401.2,738.3" stroke="#6dad46" stroke-width="2.1" fill="none" stroke-linecap="round"/>
<rect x="48.10" y="638.7" width="134.8" height="54.6" rx="8" fill="#fffdef" stroke="#6dad46" stroke-width="1.6"/>
<rect x="192.60" y="638.7" width="134.8" height="54.6" rx="8" fill="#fffdef" stroke="#6dad46" stroke-width="1.6"/>
<rect x="336.80" y="638.7" width="134.8" height="54.6" rx="8" fill="#fffdef" stroke="#6dad46" stroke-width="1.6"/>
<rect x="481.10" y="638.7" width="134.8" height="54.6" rx="8" fill="#fffdef" stroke="#6dad46" stroke-width="1.6"/>
<rect x="625.50" y="638.7" width="134.8" height="54.6" rx="8" fill="#fffdef" stroke="#6dad46" stroke-width="1.6"/>
<text transform="translate(114.50,672.00) scale(0.9104,1)" text-anchor="middle" font-size="15.7" fill="#59595b" >OZONE LAYER</text>
<text transform="translate(261.25,663.40) scale(0.9465,1)" text-anchor="middle" font-size="15.7" fill="#59595b" >CLIMATE</text>
<text transform="translate(260.90,682.30) scale(0.9320,1)" text-anchor="middle" font-size="15.7" fill="#59595b" >CHANGE</text>
<text transform="translate(404.05,672.60) scale(0.9432,1)" text-anchor="middle" font-size="15.7" fill="#59595b" >ACIDIFICATION</text>
<text transform="translate(549.20,672.60) scale(0.8988,1)" text-anchor="middle" font-size="15.7" fill="#59595b" >ECOTOXICITY</text>
<text transform="translate(691.10,663.40) scale(0.9444,1)" text-anchor="middle" font-size="15.7" fill="#59595b" >CONSUMPTION</text>
<text transform="translate(691.55,682.30) scale(0.8590,1)" text-anchor="middle" font-size="15.7" fill="#59595b" >OF RESOURCES</text>
<rect x="13.80" y="736.70" width="781.10" height="37.70" rx="11.8" fill="#1e1d1e"/>
<rect x="15" y="738" width="773" height="29.2" rx="8" fill="#73ad4a"/>
<text transform="translate(405.80,760.40) scale(1.0719,1)" text-anchor="middle" font-size="17.6" font-weight="bold" fill="#ffffff" >CUMULATIVE ENVIRONMENTAL IMPACT</text>
</svg></body></html>
